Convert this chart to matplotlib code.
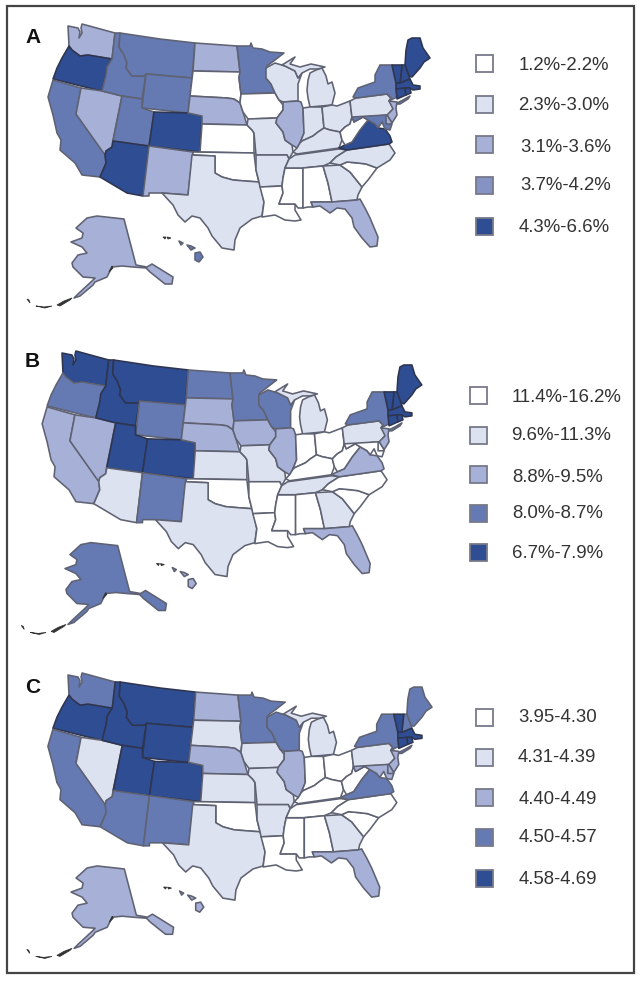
import matplotlib
matplotlib.use("Agg")
import matplotlib.pyplot as plt
from matplotlib.patches import Polygon, Rectangle

plt.rcParams['font.family'] = ['Liberation Sans', 'DejaVu Sans']

STATES = ["WA","OR","CA","NV","ID","MT","WY","UT","AZ","CO","NM","ND","SD","NE","KS","OK","TX",
          "MN","IA","MO","AR","LA","WI","IL","MS","MI","IN","OH","KY","TN","AL","GA","FL","SC",
          "NC","VA","WV","PA","NY","ME","NH","VT","MA","CT","RI","NJ","DE","MD","AK","HI"]
CLASS_A = [2,4,3,2,3,3,3,3,4,4,2,2,0,2,0,0,1,
           3,0,1,1,0,1,2,0,1,1,1,1,1,0,1,2,0,
           1,4,0,1,3,4,4,4,4,4,4,2,2,3,2,3]
CLASS_B = [4,3,2,2,4,4,3,4,1,4,3,3,2,2,1,0,1,
           3,2,1,0,0,3,2,0,1,0,0,0,1,0,1,2,0,
           0,2,0,1,3,4,4,4,4,4,4,2,0,0,3,2]
CLASS_C = [3,4,3,1,4,4,4,4,3,4,3,2,1,2,1,0,1,
           3,1,1,1,0,3,2,0,1,0,0,0,0,0,1,2,0,
           0,3,0,1,3,3,3,4,4,4,4,2,2,2,2,2]
LABELS_A = ["1.2%-2.2%","2.3%-3.0%","3.1%-3.6%","3.7%-4.2%","4.3%-6.6%"]
LABELS_B = ["11.4%-16.2%","9.6%-11.3%","8.8%-9.5%","8.0%-8.7%","6.7%-7.9%"]
LABELS_C = ["3.95-4.30","4.31-4.39","4.40-4.49","4.50-4.57","4.58-4.69"]
COLORS = ["#FFFFFF","#DDE2F0","#A7B0D7","#6579B3","#2F4D93"]
LEGEND_COLORS_A = ["#FFFFFF","#DDE2F0","#A7B0D7","#8493C4","#2F4D93"]

# Outline geometry, one list of rings per state, in map units.
OUTLINES = {
"WA":[[(68,26),(78,28),(80,32),(79,38),(82,33),(81,28),(82,24),(115,33),(112,59),(88,55),(80,56),(72,50),(69,46)]],
"OR":[[(69,46),(72,50),(80,56),(88,55),(112,59),(107,67),(106,75),(102,91),(81,86),(53,79),(57,68),(62,58)]],
"CA":[[(53,80),(81,88),(76,114),(105,154),(106,163),(100,177),(82,175),(75,163),(60,150),(61,140),(57,133),(53,115),(48,97)]],
"NV":[[(81,88),(102,91),(122,96),(113,140),(112,147),(106,151),(105,155),(76,114)]],
"ID":[[(115,33),(120,33),(119,47),(124,55),(127,63),(126,68),(132,76),(144,76),(146,74),(142,99),(122,96),(102,91),(106,75),(107,67),(112,59)]],
"MT":[[(120,33),(160,39),(195,43),(192,78),(146,74),(144,76),(132,76),(126,68),(127,63),(124,55),(119,47)]],
"WY":[[(146,74),(192,78),(188,113),(142,108)]],
"UT":[[(122,96),(142,99),(142,108),(154,112),(149,146),(113,141)]],
"AZ":[[(113,141),(149,146),(143,196),(127,193),(100,177),(106,163),(105,155),(106,151),(112,147)]],
"CO":[[(154,112),(188,113),(202,116),(200,152),(149,146)]],
"NM":[[(149,146),(193,152),(188,195),(162,193),(149,193),(149,196),(143,196)]],
"ND":[[(195,43),(237,46),(240,72),(193,71)]],
"SD":[[(193,71),(240,72),(239,78),(241,94),(240,103),(234,99),(227,98),(190,96)]],
"NE":[[(190,96),(227,98),(234,99),(240,103),(243,112),(247,125),(202,124),(202,116),(188,113)]],
"KS":[[(202,124),(247,125),(252,130),(254,133),(254,153),(200,152)]],
"OK":[[(193,152),(254,153),(256,170),(259,182),(245,181),(233,180),(222,177),(215,173),(215,156),(193,155)]],
"TX":[[(192,155),(215,156),(215,173),(222,177),(233,180),(245,181),(259,182),(261,188),(264,202),(262,216),(252,219),(240,228),(235,240),(234,250),(222,248),(212,236),(208,228),(200,218),(192,216),(185,222),(178,215),(173,205),(162,193),(188,195)]],
"MN":[[(237,46),(250,46),(251,43),(253,48),(262,49),(270,52),(284,53),(275,60),(267,66),(266,68),(266,78),(271,84),(275,93),(241,94),(239,78),(240,72)]],
"IA":[[(241,94),(275,93),(279,100),(283,105),(283,110),(277,118),(248,119),(243,112),(240,103)]],
"MO":[[(248,119),(277,118),(276,123),(283,132),(285,140),(292,145),(293,152),(289,159),(287,155),(256,155),(254,133),(252,130),(247,125)]],
"AR":[[(256,155),(287,155),(289,159),(285,168),(283,178),(282,186),(260,187),(259,182),(256,170)]],
"LA":[[(260,187),(282,186),(283,193),(279,204),(295,204),(295,210),(301,220),(295,221),(285,220),(275,215),(262,217),(264,202)]],
"WI":[[(266,68),(275,63),(285,66),(295,71),(298,78),(302,73),(298,84),(298,101),(283,102),(279,100),(275,93),(271,84),(266,78)]],
"IL":[[(283,102),(298,101),(301,102),(303,108),(304,133),(300,143),(297,148),(292,145),(285,140),(283,132),(276,123),(277,118),(283,110),(283,105)]],
"MS":[[(285,168),(303,168),(303,208),(298,208),(295,204),(279,204),(283,193),(282,186),(283,178)]],
"MI":[[(310,73),(316,70),(322,68),(326,76),(328,84),(332,82),(335,93),(332,105),(310,107),(308,98),(307,90),(308,80)],
      [(282,65),(295,57),(290,64),(300,67),(311,64),(325,67),(318,69),(310,69),(302,73),(298,78),(295,71),(285,66)]],
"IN":[[(303,108),(310,107),(322,107),(324,128),(318,132),(313,136),(302,141),(300,143),(304,133)]],
"OH":[[(322,107),(332,105),(337,106),(350,101),(352,117),(350,124),(345,127),(340,132),(330,130),(324,128)]],
"KY":[[(293,152),(297,148),(300,143),(302,141),(313,136),(318,132),(324,128),(330,130),(340,132),(342,140),(339,148),(297,154)]],
"TN":[[(295,155),(339,149),(347,150),(336,157),(330,163),(323,166),(303,168),(285,168),(289,159)]],
"AL":[[(303,168),(323,166),(328,183),(332,202),(311,202),(313,207),(308,207),(303,208)]],
"GA":[[(323,166),(340,165),(350,172),(362,187),(358,195),(357,200),(332,202),(328,183)]],
"FL":[[(311,202),(332,202),(357,200),(360,199),(365,208),(370,218),(378,237),(377,246),(370,247),(362,238),(354,227),(352,218),(345,209),(337,208),(330,213),(320,206),(313,207)]],
"SC":[[(340,165),(347,162),(358,163),(366,164),(377,168),(368,180),(362,187),(350,172)]],
"NC":[[(347,150),(389,144),(395,153),(390,160),(377,168),(366,164),(358,163),(347,162),(340,165),(330,163),(336,157)]],
"VA":[[(339,148),(345,145),(352,142),(360,130),(368,120),(375,124),(378,128),(385,129),(390,136),(392,142),(389,144),(347,150)]],
"WV":[[(340,132),(345,127),(350,124),(352,117),(354,122),(363,117),(368,120),(360,130),(352,142),(345,145),(342,140)]],
"PA":[[(352,100),(356,98),(387,94),(391,98),(389,101),(396,105),(388,115),(352,118),(350,101)]],
"NY":[[(353,97),(358,88),(375,82),(375,75),(380,65),(392,65),(396,83),(397,97),(389,101),(391,98),(387,94),(356,98)],
      [(395,104),(403,100),(410,96),(408,99),(400,104)]],
"ME":[[(405,65),(406,50),(408,40),(412,38),(420,38),(423,48),(430,58),(424,62),(420,68),(412,77),(409,76)]],
"NH":[[(402,65),(405,65),(409,76),(410,79),(400,83)]],
"VT":[[(392,65),(402,65),(400,83),(396,83)]],
"MA":[[(396,83),(400,83),(410,79),(413,85),(420,86),(420,89),(413,90),(410,88),(396,89)]],
"CT":[[(396,89),(405,88),(406,95),(397,99)]],
"RI":[[(405,88),(410,88),(411,93),(406,95)]],
"NJ":[[(389,101),(397,102),(396,108),(397,115),(392,123),(387,115),(393,109)]],
"DE":[[(385,116),(387,115),(392,123),(390,125),(386,124)]],
"MD":[[(354,122),(352,117),(386,115),(386,124),(392,124),(390,130),(385,129),(382,122),(378,128),(375,124),(368,120),(363,117)]],
"AK":[[(76,228),(87,218),(97,216),(124,219),(136,265),(147,267),(152,264),(173,277),(172,284),(165,284),(150,272),(146,268),(133,267),(122,266),(112,267),(107,277),(95,282),(93,285),(80,296),(74,298),(78,294),(92,281),(95,278),(83,277),(73,267),(72,263),(78,255),(87,253),(82,247),(71,242),(82,238),(83,233)]],
"HI":[[(195,253),(200,252),(203,257),(199,262),(195,260)],
      [(179,241),(183,243),(181,245)],[(187,245),(191,246),(195,248),(191,250)]],
}
SPECKS = [[(163,237),(166,237),(165,239)],[(167,237),(171,238),(168,239)],
          [(57,305),(64,301),(72,298),(70,300),(60,306)],[(36,306),(44,307),(52,306),(45,308)],
          [(27,299),(29,300),(30,303)],[(109,272),(112,266),(113,268)]]

LEGEND_Y_A = [63,104,144,185,226]
LEGEND_Y_B = [395,435,474,513,552]
LEGEND_Y_C = [717,757,797,837,878]
TEXT_Y_A = [65,106,148,186,227]
TEXT_Y_B = [397,436,477,514,553]
TEXT_Y_C = [718,758,800,838,879]
TEXT_X_A = [519,518,520,520,519]
TEXT_X_B = [512,511,512,512,512]
TEXT_X_C = [518,518,519,519,519]

W, H = 641, 981
fig = plt.figure(figsize=(W/100, H/100), dpi=100)
bg = fig.add_axes([0,0,1,1]); bg.set_xlim(0,W); bg.set_ylim(H,0); bg.axis("off")
bg.add_patch(Rectangle((7,6),627,967,fill=False,ec="#444444",lw=1.6))

EDGE = "#5F6272"
def draw_panel(classes, x0, y0, sx, sy):
    xa, xb, ya, yb = 20, 450, 15, 315
    left = x0 + (xa-68)*sx; right = x0 + (xb-68)*sx
    top = y0 + (ya-26)*sy; bottom = y0 + (yb-26)*sy
    ax = fig.add_axes([left/W, 1-bottom/H, (right-left)/W, (bottom-top)/H])
    ax.set_xlim(xa,xb); ax.set_ylim(yb,ya); ax.axis("off"); ax.patch.set_alpha(0)
    for s, c in zip(STATES, classes):
        for ring in OUTLINES[s]:
            ax.add_patch(Polygon(ring, closed=True, fc=COLORS[c],
                                 ec="#2E3550" if c == 4 else EDGE, lw=1.15, joinstyle="round"))
    for ring in SPECKS:
        ax.add_patch(Polygon(ring, closed=True, fc="#333333", ec="#333333", lw=0.6))

def draw_legend(sq_x, ys, tx, ty, labels, colors):
    for y, x, t, lab, c in zip(ys, tx, ty, labels, colors):
        bg.add_patch(Rectangle((sq_x-8.5, y-8.5), 17, 17, fc=c, ec="#77798A", lw=1.3))
        bg.text(x, t, lab, fontsize=13.4, color="#333333", va="center", ha="left")

draw_panel(CLASS_A, 68, 26, 1.0, 1.0)
draw_panel(CLASS_B, 62, 353, 0.994, 0.998)
draw_panel(CLASS_C, 68, 675, 1.0055, 1.005)
draw_legend(484, LEGEND_Y_A, TEXT_X_A, TEXT_Y_A, LABELS_A, LEGEND_COLORS_A)
draw_legend(478, LEGEND_Y_B, TEXT_X_B, TEXT_Y_B, LABELS_B, COLORS)
draw_legend(484, LEGEND_Y_C, TEXT_X_C, TEXT_Y_C, LABELS_C, COLORS)
for letter, y in zip("ABC", [43, 367, 693]):
    bg.text(25, y, letter, fontsize=15, fontweight="bold", color="#111111", va="baseline", ha="left")

fig.savefig("out.png", dpi=100)
